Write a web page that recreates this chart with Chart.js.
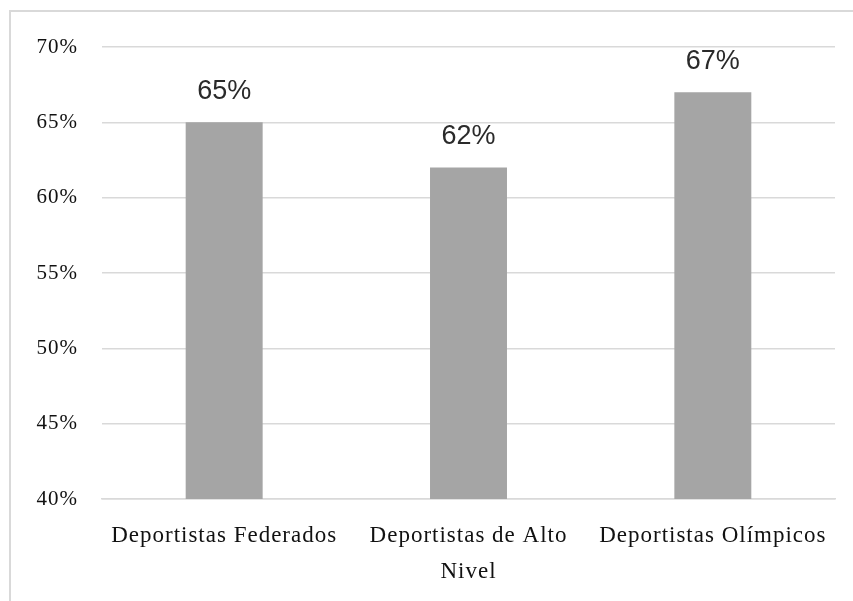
<!DOCTYPE html>
<html>
<head>
<meta charset="utf-8">
<script src="https://cdn.jsdelivr.net/npm/chart.js@4"></script>
<style>
  html, body { margin: 0; padding: 0; background: #ffffff; }
  #wrap { position: relative; width: 853px; height: 601px; overflow: hidden; }
  #frame { position: absolute; left: 9px; top: 10px; width: 900px; height: 700px;
           border-left: 2px solid #d9d9d9; border-top: 2px solid #d9d9d9; box-sizing: border-box; }
  canvas { position: absolute; left: 0; top: 0; }
</style>
</head>
<body>
<div id="wrap">
  <div id="frame"></div>
  <canvas id="c" width="853" height="601"></canvas>
</div>
<script>
const categories = [
  'Deportistas Federados',
  ['Deportistas de Alto', 'Nivel'],
  'Deportistas Olímpicos'
];
const values = [65, 62, 67];
const yTicks = { min: 40, max: 70, step: 5 };

const serif = "'Liberation Serif', 'DejaVu Serif', serif";

const spacingPlugin = {
  id: 'spacing',
  beforeInit(chart) { chart.ctx.letterSpacing = '1px'; },
  beforeLayout(chart) { chart.ctx.letterSpacing = '1px'; },
  beforeDraw(chart) { chart.ctx.letterSpacing = '1px'; }
};

const labelPlugin = {
  id: 'barLabels',
  afterDatasetsDraw(chart) {
    const ctx = chart.ctx;
    ctx.save();
    ctx.letterSpacing = '0px';
    ctx.font = "27px 'Liberation Sans', Arial, sans-serif";
    ctx.fillStyle = '#2a2a2a';
    ctx.textAlign = 'center';
    ctx.textBaseline = 'bottom';
    const meta = chart.getDatasetMeta(0);
    meta.data.forEach((bar, i) => {
      ctx.fillText(values[i] + '%', bar.x, bar.y - 17);
    });
    ctx.restore();
  }
};

new Chart(document.getElementById('c'), {
  type: 'bar',
  data: {
    labels: categories,
    datasets: [{
      data: values,
      backgroundColor: '#a5a5a5',
      borderWidth: 0,
      categoryPercentage: 1,
      barPercentage: 0.315
    }]
  },
  options: {
    responsive: false,
    animation: false,
    events: [],
    layout: { padding: { top: 47, right: 18, left: 10, bottom: 0 } },
    plugins: { legend: { display: false }, tooltip: { enabled: false } },
    scales: {
      y: {
        min: yTicks.min,
        max: yTicks.max,
        ticks: {
          stepSize: yTicks.step,
          padding: 24,
          color: '#111',
          font: { family: serif, size: 21 },
          callback: v => v + '%'
        },
        grid: { color: '#d9d9d9', lineWidth: 1.5, drawTicks: false },
        border: { display: false },
        afterFit(scale) { scale.width = 92; }
      },
      x: {
        ticks: {
          padding: 19,
          color: '#111',
          maxRotation: 0,
          autoSkip: false,
          font: { family: serif, size: 23, lineHeight: 1.55 }
        },
        grid: { display: false, drawTicks: false },
        border: { display: true, color: '#d9d9d9', width: 1.5 },
        afterFit(scale) { scale.height = 102; }
      }
    }
  },
  plugins: [spacingPlugin, labelPlugin]
});
</script>
</body>
</html>
